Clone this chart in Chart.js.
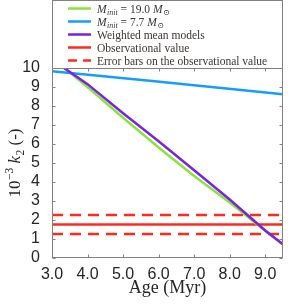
<!DOCTYPE html>
<html><head><meta charset="utf-8">
<script src="https://cdn.jsdelivr.net/npm/chart.js@4/dist/chart.umd.min.js"></script>
<style>html,body{margin:0;padding:0;background:#fff;overflow:hidden}</style>
</head><body>
<canvas id="c" width="293" height="305"></canvas>
<script>
// ---- data ----
const xTickValues = [3, 4, 5, 6, 7, 8, 9];
const yTickValues = [0, 1, 2, 3, 4, 5, 6, 7, 8, 9, 10];
const ageRange = [3.0, 9.5];

const ageGreen = [3.35, 4.0, 5.0, 6.0, 7.0, 8.0, 9.0, 9.5];
const k2Green  = [10.0, 9.0, 7.38, 5.82, 4.32, 2.92, 1.43, 0.7];

const ageBlue = [3.0, 5.75, 9.5];
const k2Blue  = [9.83, 9.33, 8.62];

const agePurple = [3.3, 4.0, 5.0, 6.0, 7.0, 8.0, 9.0, 9.5];
const k2Purple  = [10.05, 9.15, 7.62, 6.14, 4.62, 3.08, 1.45, 0.72];

const obsValue = 1.76;
const obsUpper = 2.26;
const obsLower = 1.26;

const seriesLabels = ['M_init = 19.0 M_⊙', 'M_init = 7.7 M_⊙', 'Weighted mean models', 'Observational value', 'Error bars on the observational value'];

// ---- styles ----
const GREEN = '#8be33c', BLUE = '#149dff', PURPLE = '#7a22e2', RED = '#ff2a1e', AXIS = '#808080', TXT = '#262626', LTXT = '#3a3633';
const pts = (xs, ys) => xs.map((v, i) => ({x: v, y: ys[i]}));
const flat = v => [{x: ageRange[0], y: v}, {x: ageRange[1], y: v}];

const SERIF = '"Liberation Serif", "DejaVu Serif", serif';

function drawRich(ctx, parts, x, y) {
  for (const p of parts) {
    ctx.font = p.f;
    ctx.fillText(p.t, x, y + (p.dy || 0));
    x += ctx.measureText(p.t).width + (p.gap || 0);
  }
  return x;
}
function richWidth(ctx, parts) {
  let w = 0;
  for (const p of parts) { ctx.font = p.f; w += ctx.measureText(p.t).width + (p.gap || 0); }
  return w;
}

const LF = 11.5, LS = 8;
const it = 'italic ' + LF + 'px ' + SERIF, rg = LF + 'px ' + SERIF, sit = 'italic ' + LS + 'px ' + SERIF, srg = LS + 'px ' + SERIF;
const legendRows = [
  {color: GREEN, dash: [], parts: [{t:'M', f:it, gap:0.5}, {t:'init', f:sit, dy:2.5}, {t:' = 19.0 ', f:rg}, {t:'M', f:it, gap:0.5}, {t:'⊙', f:srg, dy:2.5}]},
  {color: BLUE, dash: [], parts: [{t:'M', f:it, gap:0.5}, {t:'init', f:sit, dy:2.5}, {t:' = 7.7 ', f:rg}, {t:'M', f:it, gap:0.5}, {t:'⊙', f:srg, dy:2.5}]},
  {color: PURPLE, dash: [], parts: [{t:seriesLabels[2], f:rg}]},
  {color: RED, dash: [], parts: [{t:seriesLabels[3], f:rg}]},
  {color: RED, dash: [9, 6], parts: [{t:seriesLabels[4], f:rg}]}
];

const framePlugin = {
  id: 'frame',
  afterDatasetsDraw(chart) {
    const {ctx, chartArea: a, scales: {x, y}} = chart;
    ctx.save();
    ctx.strokeStyle = AXIS; ctx.lineWidth = 1;
    const L = Math.round(a.left) + 0.5, R = Math.round(a.right) - 0.5, T = Math.round(a.top) + 0.5, B = Math.round(a.bottom) - 0.5;
    ctx.strokeRect(L, T, R - L, B - T);
    ctx.beginPath();
    for (const v of xTickValues) {
      const p = Math.round(x.getPixelForValue(v)) + 0.5;
      ctx.moveTo(p, B); ctx.lineTo(p, B - 3);
      ctx.moveTo(p, T); ctx.lineTo(p, T + 3);
    }
    for (const v of yTickValues) {
      const p = Math.round(y.getPixelForValue(v)) + 0.5;
      ctx.moveTo(L, p); ctx.lineTo(L + 3, p);
      ctx.moveTo(R, p); ctx.lineTo(R - 3, p);
    }
    ctx.stroke();
    ctx.restore();
  },
  afterDraw(chart) {
    const {ctx, chartArea: a} = chart;
    ctx.save();
    // legend box above the axes
    const L = Math.round(a.left) + 0.5, R = Math.round(a.right) - 0.5, T = 0.5, B = Math.round(a.top) + 0.5;
    ctx.fillStyle = '#fff';
    ctx.fillRect(L, T, R - L, B - T - 0.5);
    ctx.strokeStyle = AXIS; ctx.lineWidth = 1;
    ctx.strokeRect(L, T, R - L, B - T);
    legendRows.forEach((row, i) => {
      const cy = 8.5 + i * 13;
      ctx.strokeStyle = row.color; ctx.lineWidth = 2.5;
      ctx.setLineDash(row.dash);
      ctx.beginPath(); ctx.moveTo(68, cy); ctx.lineTo(91, cy); ctx.stroke();
      ctx.setLineDash([]);
      ctx.fillStyle = LTXT; ctx.textBaseline = 'alphabetic'; ctx.textAlign = 'left';
      drawRich(ctx, row.parts, 97, cy + 4);
    });
    // y-axis title (rotated)
    const YF = 17, YS = 11.5;
    const yParts = [
      {t:'10', f: YF + 'px ' + SERIF, gap: 0.5},
      {t:'−3', f: YS + 'px ' + SERIF, dy: -7},
      {t:' ', f: YF + 'px ' + SERIF},
      {t:'k', f: 'italic ' + YF + 'px ' + SERIF, gap: 0.5},
      {t:'2', f: YS + 'px ' + SERIF, dy: 3.5},
      {t:' (-)', f: YF + 'px ' + SERIF}
    ];
    ctx.translate(20, (a.top + a.bottom) / 2);
    ctx.rotate(-Math.PI / 2);
    ctx.fillStyle = TXT; ctx.textBaseline = 'alphabetic'; ctx.textAlign = 'left';
    const w = richWidth(ctx, yParts);
    drawRich(ctx, yParts, -w / 2, 0);
    ctx.restore();
  }
};

const ds = (label, data, color, order, dash) => ({
  label, data, borderColor: color, backgroundColor: color, borderWidth: 2.5,
  borderDash: dash || [], pointRadius: 0, order, clip: 0, tension: 0, fill: false
});

new Chart(document.getElementById('c'), {
  type: 'line',
  data: {
    datasets: [
      ds(seriesLabels[2], pts(agePurple, k2Purple), PURPLE, 0),
      ds(seriesLabels[1], pts(ageBlue, k2Blue), BLUE, 1),
      ds(seriesLabels[0], pts(ageGreen, k2Green), GREEN, 2),
      ds(seriesLabels[3], flat(obsValue), RED, 3),
      ds(seriesLabels[4], flat(obsUpper), RED, 4, [11, 7]),
      ds(seriesLabels[4], flat(obsLower), RED, 5, [11, 7])
    ]
  },
  options: {
    responsive: false,
    animation: false,
    layout: {padding: {top: 68, right: 10, left: 0, bottom: 0}},
    plugins: {legend: {display: false}, tooltip: {enabled: false}},
    scales: {
      x: {
        type: 'linear', min: ageRange[0], max: ageRange[1],
        afterFit: s => { s.height = 47; },
        afterBuildTicks: s => { s.ticks = xTickValues.map(v => ({value: v})); },
        grid: {display: false}, border: {display: false},
        ticks: {padding: -1, color: TXT, font: {family: '"Liberation Sans", Arial, sans-serif', size: 16}, maxRotation: 0, autoSkip: false, callback: v => Number(v).toFixed(1)},
        title: {display: true, text: 'Age (Myr)', color: TXT, font: {family: SERIF, size: 18}, padding: {top: 0, bottom: 6}}
      },
      y: {
        type: 'linear', min: 0, max: 10,
        afterFit: s => { s.width = 52; },
        afterBuildTicks: s => { s.ticks = yTickValues.map(v => ({value: v})); },
        grid: {display: false}, border: {display: false},
        ticks: {padding: 4, color: TXT, font: {family: '"Liberation Sans", Arial, sans-serif', size: 16}, autoSkip: false}
      }
    }
  },
  plugins: [framePlugin]
});
</script>
</body></html>
